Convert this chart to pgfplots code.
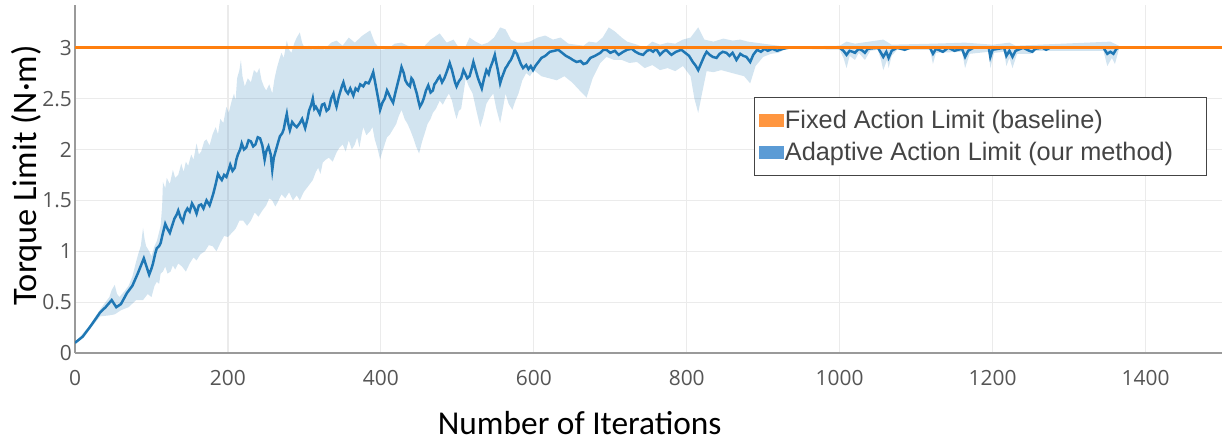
\documentclass[border=0pt]{standalone}
\usepackage{fontspec}
\setmainfont{Open Sans}
\newfontfamily\labfont{Carlito}
\newfontfamily\legfont{Liberation Sans}
\usepackage{pgfplots}
\pgfplotsset{compat=1.18}
\usepgfplotslibrary{fillbetween}
\definecolor{c1}{HTML}{1F77B4}
\definecolor{c2}{HTML}{FF7F0E}
\definecolor{c1l}{HTML}{5B9BD5}
\definecolor{c2l}{HTML}{FF9640}
\definecolor{tickgray}{HTML}{555555}
\definecolor{leggray}{HTML}{444444}
\definecolor{axgray}{HTML}{9A9A9A}
\definecolor{gridgray}{HTML}{EBEBEB}
\begin{document}
\begin{tikzpicture}
\begin{axis}[
  scale only axis, width=1147bp, height=348bp,
  xmin=0, xmax=1500, ymin=0, ymax=3.42,
  axis x line*=bottom, axis y line*=left,
  axis line style={axgray, line width=2bp, -},
  xtick={0,200,...,1400}, ytick={0,0.5,...,3},
  major tick length=0pt,
  grid=major, major grid style={gridgray, line width=1.2bp},
  ticklabel style={font=\fontsize{21}{25}\selectfont, text=tickgray},
  /pgf/number format/assume math mode=true,
  /pgf/number format/1000 sep={},
  yticklabel style={inner sep=0pt, xshift=-3bp},
  xticklabel style={inner sep=0pt, yshift=-17bp},
  xlabel={Number of Iterations}, ylabel={Torque Limit (N·m)},
  xlabel style={font=\labfont\fontsize{33.5}{40}\selectfont, inner sep=0pt, at={(axis description cs:0.44,-0.2)}, anchor=center},
  ylabel style={font=\labfont\fontsize{34.5}{40}\selectfont, inner sep=0pt, at={(axis description cs:-0.0418,0.51)}, anchor=center},
  legend style={at={(axis description cs:0.592,0.736)}, anchor=north west,
    draw=leggray, line width=1.3bp, font=\legfont\fontsize{25.4}{30}\selectfont, text=leggray,
    inner xsep=4bp, inner ysep=7bp, row sep=0pt,
    nodes={inner xsep=1bp, inner ysep=6bp}},
  legend cell align=left,
]
\addplot[name path=up, draw=none, forget plot] coordinates {
(0,0.10) (20,0.28) (33,0.43) (40,0.50) (45,0.55) (48,0.62) (52,0.67) (55,0.58) (58,0.55) (64,0.60) (70,0.66) (75,0.75)
(80,0.90) (83,0.98) (86,1.05) (89,1.23) (91,1.12) (93,1.05) (97,1.00) (100,0.95) (104,1.05) (107,1.10) (112,1.25) (114,1.45)
(115,1.68) (118,1.62) (120,1.72) (124,1.66) (128,1.80) (131,1.72) (135,1.75) (139,1.86) (142,1.78) (145,1.88) (148,1.84)
(152,1.95) (155,1.90) (159,2.06) (162,1.95) (165,1.98) (169,2.08) (172,2.10) (176,2.04) (180,2.15) (184,2.22) (187,2.15)
(190,2.30) (194,2.26) (198,2.42) (201,2.36) (205,2.48) (208,2.55) (210,2.48) (212,2.70) (215,2.78) (217,2.88) (219,2.72)
(222,2.62) (226,2.70) (230,2.66) (234,2.78) (238,2.75) (241,2.80) (244,2.68) (247,2.62) (250,2.58) (254,2.64) (258,2.55)
(261,2.70) (264,2.80) (267,2.88) (270,2.95) (273,2.90) (277,3.07) (280,2.98) (283,2.95) (287,3.05) (290,3.10) (294,3.15)
(297,3.05) (300,3.00) (306,3.02) (311,2.98) (318,3.02) (326,2.98) (335,3.05) (342,3.07) (350,3.02) (358,3.10) (366,3.05)
(376,3.12) (386,3.17) (392,3.05) (400,2.98) (410,2.99) (418,3.04) (427,3.05) (435,3.02) (445,3.00) (455,3.00) (465,3.08)
(477,3.14) (486,3.05) (495,3.08) (502,3.00) (510,3.00) (516,3.10) (524,3.06) (532,3.03) (540,3.05) (548,3.10) (556,3.20)
(563,3.18) (570,3.08) (578,3.05) (586,3.05) (595,3.06) (605,3.10) (615,3.12) (625,3.08) (635,3.10) (645,3.04) (655,3.03)
(665,3.02) (672,3.06) (682,3.05) (690,3.10) (698,3.20) (706,3.16) (715,3.10) (722,3.06) (735,3.03) (745,3.00) (755,3.06)
(765,3.03) (775,3.05) (785,3.04) (795,3.08) (805,3.10) (815,3.20) (823,3.08) (835,3.06) (848,3.09) (860,3.07) (870,3.08)
(880,3.06) (890,3.05) (900,3.04) (910,3.03) (920,3.02) (930,3.01) (1000,3.02) (1009,3.06) (1020,3.04) (1057,3.08)
(1068,3.03) (1122,3.04) (1164,3.05) (1200,3.03) (1222,3.05) (1230,3.02) (1354,3.06) (1365,3.02)};
\addplot[name path=lo, draw=none, forget plot] coordinates {
(0,0.10) (20,0.24) (33,0.36) (45,0.37) (52,0.38) (60,0.42) (70,0.45) (80,0.52) (89,0.52) (95,0.58) (100,0.55) (104,0.66)
(107,0.70) (110,0.68) (112,0.78) (115,0.80) (118,0.85) (121,0.78) (125,0.80) (128,0.86) (131,0.82) (135,0.88) (140,0.85)
(145,0.80) (150,0.88) (155,0.94) (159,0.91) (164,0.97) (170,1.00) (175,1.06) (180,1.05) (185,1.00) (190,1.08) (195,1.15)
(200,1.14) (205,1.18) (210,1.22) (215,1.30) (220,1.30) (225,1.25) (230,1.30) (235,1.38) (240,1.34) (245,1.40) (250,1.45)
(254,1.52) (258,1.50) (262,1.44) (265,1.48) (270,1.56) (275,1.52) (280,1.58) (285,1.50) (290,1.55) (294,1.50) (299,1.58)
(303,1.62) (307,1.66) (311,1.70) (315,1.78) (318,1.82) (321,1.76) (324,1.87) (328,1.90) (332,1.92) (337,1.88) (342,1.97)
(346,2.02) (350,2.05) (354,1.98) (358,2.09) (362,2.00) (366,2.05) (369,2.12) (372,2.02) (375,2.15) (377,2.22) (381,2.14)
(386,2.18) (389,2.22) (392,2.10) (396,2.00) (399,1.90) (402,1.98) (405,2.05) (408,2.12) (412,2.15) (416,2.20) (420,2.25)
(423,2.32) (427,2.39) (431,2.30) (435,2.25) (439,2.18) (443,2.10) (446,2.03) (450,1.96) (454,2.08) (457,2.15) (461,2.25)
(465,2.30) (468,2.36) (472,2.40) (477,2.48) (481,2.44) (485,2.50) (489,2.55) (493,2.48) (496,2.38) (499,2.30) (502,2.38)
(505,2.40) (508,2.55) (511,2.70) (515,2.62) (520,2.55) (525,2.38) (530,2.22) (534,2.32) (538,2.45) (542,2.50) (547,2.55)
(551,2.40) (556,2.26) (560,2.42) (563,2.55) (567,2.45) (572,2.39) (576,2.48) (580,2.55) (585,2.68) (590,2.75) (595,2.72)
(600,2.78) (610,2.72) (620,2.70) (630,2.68) (640,2.72) (650,2.66) (660,2.58) (669,2.51) (677,2.70) (687,2.85) (695,2.91)
(705,2.88) (715,2.88) (725,2.85) (735,2.86) (745,2.80) (755,2.83) (765,2.78) (775,2.80) (785,2.77) (795,2.82) (805,2.72)
(810,2.50) (815,2.36) (820,2.55) (826,2.77) (835,2.76) (845,2.78) (855,2.76) (865,2.74) (875,2.72) (883,2.65) (890,2.82)
(900,2.91) (910,2.94) (920,2.95) (930,2.99) (1000,2.98) (1005,2.90) (1009,2.80) (1013,2.92) (1020,2.88) (1025,2.95)
(1033,2.88) (1040,2.97) (1050,2.98) (1054,2.88) (1057,2.78) (1062,2.88) (1064,2.80) (1068,2.92) (1075,2.98) (1118,2.98)
(1122,2.84) (1126,2.95) (1160,2.96) (1164,2.80) (1170,2.94) (1195,2.96) (1197,2.80) (1202,2.95) (1215,2.96) (1218,2.82)
(1222,2.90) (1226,2.80) (1232,2.94) (1250,2.94) (1256,2.97) (1345,2.97) (1350,2.82) (1356,2.90) (1360,2.84) (1365,2.98)};
\addplot[fill=c1, fill opacity=0.2, draw=none, forget plot] fill between[of=up and lo];
\addplot[c1, line width=2.5bp, forget plot] coordinates {
(0,0.10) (10,0.16) (20,0.26) (33,0.40) (40,0.45) (48,0.52) (54,0.45) (60,0.48) (68,0.59) (75,0.66) (82,0.78) (90,0.93)
(97,0.77) (100,0.83) (102,0.88) (105,0.98) (107,1.03) (110,1.05) (112,1.08) (115,1.18) (118,1.27) (121,1.22) (124,1.18)
(127,1.25) (130,1.32) (133,1.36) (135,1.40) (138,1.33) (141,1.29) (144,1.38) (147,1.42) (150,1.39) (153,1.47) (156,1.43)
(159,1.37) (162,1.45) (165,1.46) (168,1.42) (172,1.50) (176,1.45) (179,1.52) (181,1.57) (184,1.66) (187,1.76) (190,1.72)
(192,1.70) (195,1.75) (198,1.73) (201,1.80) (203,1.85) (206,1.79) (209,1.82) (211,1.90) (213,1.95) (216,2.00) (218,2.06)
(221,2.00) (224,2.02) (227,2.09) (230,2.08) (233,2.03) (236,2.05) (239,2.12) (242,2.11) (245,2.04) (248,1.90) (250,1.98)
(253,2.03) (256,1.95) (258,1.80) (260,1.92) (263,2.00) (266,2.08) (268,2.13) (271,2.16) (273,2.20) (275,2.28) (277,2.35)
(279,2.25) (281,2.19) (284,2.27) (287,2.24) (290,2.22) (294,2.26) (297,2.30) (301,2.21) (304,2.30) (306,2.38) (309,2.44)
(311,2.50) (313,2.40) (315,2.42) (318,2.38) (320,2.35) (323,2.44) (326,2.45) (329,2.38) (332,2.40) (335,2.50) (338,2.55)
(340,2.47) (342,2.42) (345,2.52) (347,2.57) (349,2.62) (351,2.66) (354,2.58) (357,2.55) (360,2.60) (364,2.53) (367,2.60)
(370,2.58) (373,2.64) (377,2.62) (380,2.66) (384,2.65) (387,2.70) (390,2.76) (392,2.68) (394,2.60) (397,2.48) (399,2.39)
(402,2.46) (405,2.50) (408,2.58) (410,2.55) (413,2.50) (416,2.46) (419,2.56) (422,2.65) (425,2.74) (427,2.81) (430,2.75)
(432,2.68) (435,2.64) (438,2.62) (440,2.70) (442,2.68) (445,2.60) (447,2.55) (449,2.48) (451,2.42) (454,2.46) (456,2.50)
(459,2.58) (462,2.63) (465,2.56) (468,2.58) (470,2.64) (472,2.66) (475,2.70) (477,2.72) (480,2.66) (483,2.70) (486,2.76)
(490,2.85) (493,2.78) (495,2.72) (497,2.66) (499,2.62) (502,2.67) (505,2.70) (508,2.78) (510,2.75) (513,2.70) (516,2.72)
(519,2.80) (521,2.86) (524,2.78) (527,2.70) (530,2.64) (532,2.60) (535,2.70) (538,2.78) (541,2.74) (543,2.80) (546,2.86)
(549,2.93) (551,2.85) (553,2.78) (556,2.65) (558,2.70) (560,2.74) (563,2.80) (565,2.82) (568,2.86) (570,2.88) (573,2.93)
(575,2.98) (578,2.94) (580,2.90) (583,2.84) (586,2.80) (590,2.83) (593,2.79) (596,2.82) (599,2.78) (602,2.82) (605,2.85)
(610,2.90) (615,2.92) (621,2.96) (627,2.97) (632,2.98) (637,2.95) (642,2.92) (647,2.90) (651,2.88) (656,2.86) (661,2.87)
(665,2.84) (669,2.85) (674,2.90) (680,2.92) (687,2.95) (691,2.98) (695,2.98) (700,2.95) (706,2.97) (711,2.93) (717,2.96)
(722,2.98) (728,2.99) (733,2.96) (738,2.94) (743,2.93) (748,2.97) (752,2.98) (756,2.96) (760,2.99) (765,2.93) (769,2.96)
(773,2.98) (777,2.95) (780,2.93) (786,2.96) (793,2.98) (798,2.95) (803,2.92) (808,2.86) (812,2.82) (815,2.78) (819,2.85)
(823,2.92) (826,2.96) (830,2.93) (834,2.91) (839,2.90) (843,2.94) (847,2.96) (852,2.95) (856,2.92) (860,2.95) (865,2.88)
(870,2.94) (874,2.92) (878,2.91) (883,2.86) (887,2.93) (892,2.98) (897,2.96) (902,2.99) (906,2.97) (912,2.99) (918,2.97)
(926,2.99) (933,3.00) (1000,3.00) (1005,2.97) (1009,2.93) (1013,2.97) (1017,2.96) (1020,2.95) (1025,2.99) (1030,2.97)
(1033,2.95) (1037,2.99) (1050,3.00) (1054,2.95) (1057,2.91) (1061,2.96) (1064,2.90) (1068,2.97) (1075,3.00) (1085,2.98)
(1092,3.00) (1118,3.00) (1122,2.94) (1126,2.99) (1135,2.96) (1142,3.00) (1150,2.97) (1160,2.99) (1164,2.91) (1168,2.97)
(1175,3.00) (1195,3.00) (1197,2.91) (1200,2.98) (1215,3.00) (1218,2.92) (1222,2.97) (1226,2.91) (1230,2.97) (1240,3.00)
(1248,2.97) (1252,2.96) (1256,2.99) (1265,3.00) (1270,2.98) (1275,3.00) (1345,3.00) (1350,2.94) (1354,2.96) (1358,2.94)
(1362,2.99) (1365,3.00)};
\addplot[c2, line width=3bp, forget plot] coordinates {(0,3) (1500,3)};
\addlegendimage{legend image code/.code={\fill[c2l] (0bp,-6bp) rectangle (24bp,6bp);}}
\addlegendentry{Fixed Action Limit (baseline)}
\addlegendimage{legend image code/.code={\fill[c1l] (0bp,-6bp) rectangle (24bp,6bp);}}
\addlegendentry{Adaptive Action Limit (our method)\rule{28bp}{0pt}}
\end{axis}
\pgfresetboundingbox
\path ([shift={(-75bp,-89bp)}]current axis.south west) rectangle ([shift={(6bp,5bp)}]current axis.north east);
\end{tikzpicture}
\end{document}
